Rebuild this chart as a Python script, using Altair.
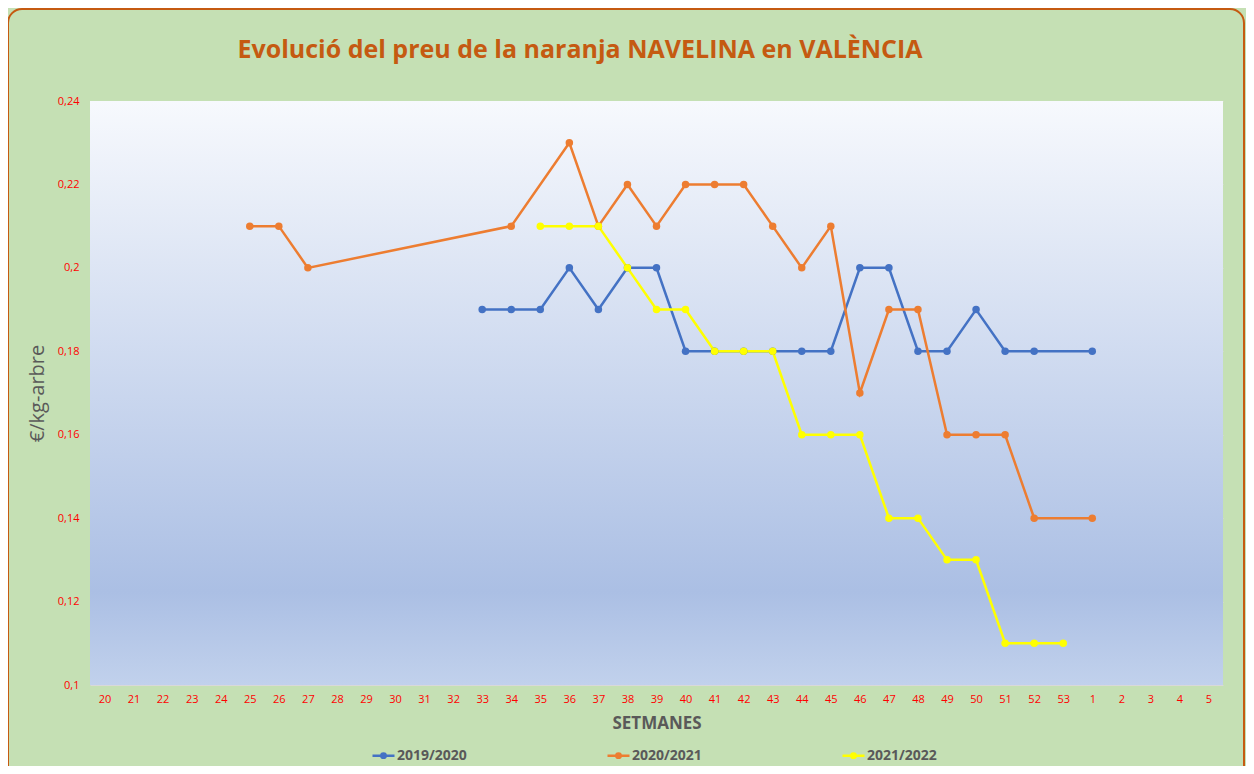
import altair as alt
import pandas as pd

TITLE = "Evolució del preu de la naranja NAVELINA en VALÈNCIA"

weeks = [str(w) for w in range(20, 54)] + [str(w) for w in range(1, 6)]

s2019 = {"33": 0.19, "34": 0.19, "35": 0.19, "36": 0.20, "37": 0.19, "38": 0.20, "39": 0.20,
         "40": 0.18, "41": 0.18, "42": 0.18, "43": 0.18, "44": 0.18, "45": 0.18, "46": 0.20,
         "47": 0.20, "48": 0.18, "49": 0.18, "50": 0.19, "51": 0.18, "52": 0.18, "1": 0.18}
s2020 = {"25": 0.21, "26": 0.21, "27": 0.20, "34": 0.21, "36": 0.23, "37": 0.21, "38": 0.22,
         "39": 0.21, "40": 0.22, "41": 0.22, "42": 0.22, "43": 0.21, "44": 0.20, "45": 0.21,
         "46": 0.17, "47": 0.19, "48": 0.19, "49": 0.16, "50": 0.16, "51": 0.16, "52": 0.14,
         "1": 0.14}
s2021 = {"35": 0.21, "36": 0.21, "37": 0.21, "38": 0.20, "39": 0.19, "40": 0.19, "41": 0.18,
         "42": 0.18, "43": 0.18, "44": 0.16, "45": 0.16, "46": 0.16, "47": 0.14, "48": 0.14,
         "49": 0.13, "50": 0.13, "51": 0.11, "52": 0.11, "53": 0.11}

series_names = ["2019/2020", "2020/2021", "2021/2022"]
series_vals = [s2019, s2020, s2021]
series_colors = ["#4472C4", "#ED7D31", "#FFFF00"]
y_ticks = [0.10, 0.12, 0.14, 0.16, 0.18, 0.20, 0.22, 0.24]

rows = []
for name, vals in zip(series_names, series_vals):
    for i, w in enumerate(weeks):
        if w in vals:
            rows.append({"setmana": w, "idx": i, "preu": vals[w], "campanya": name})
df = pd.DataFrame(rows)

W, H = 1133, 584
GREY = "#595959"

x_enc = alt.X("setmana:O", sort=weeks,
              scale=alt.Scale(type="point", domain=weeks, padding=0.5),
              axis=alt.Axis(title="SETMANES", labelAngle=0, labelColor="#FF0000",
                            labelFontSize=11, labelFont="Open Sans", ticks=False,
                            domain=False, grid=False, labelPadding=8,
                            titleFontSize=17, titleFont="Open Sans", titleFontWeight="bold",
                            titleColor=GREY, titlePadding=11))
y_enc = alt.Y("preu:Q",
              scale=alt.Scale(domain=[0.1, 0.24], nice=False, zero=False),
              axis=alt.Axis(title="€/kg-arbre", values=y_ticks,
                            labelExpr="replace(toString(round(datum.value*100)/100), '.', ',')",
                            labelColor="#FF0000", labelFontSize=11, labelFont="Open Sans",
                            ticks=False, domain=False, grid=True, gridColor="#D9D9D9",
                            labelPadding=11, titleFontSize=20, titleFont="Open Sans",
                            titleFontWeight="normal", titleColor=GREY, titlePadding=10))

legend_symbol = ("M-1,0L1,0"
                 "M0.1,0A0.1,0.1 0 1,1 -0.1,0A0.1,0.1 0 1,1 0.1,0"
                 "M0.2,0A0.2,0.2 0 1,1 -0.2,0A0.2,0.2 0 1,1 0.2,0")

color_enc = alt.Color("campanya:N",
                      scale=alt.Scale(domain=series_names, range=series_colors),
                      legend=alt.Legend(
                          title=None, orient="none", direction="horizontal",
                          legendX=281, legendY=642,
                          symbolType=legend_symbol,
                          symbolSize=484, symbolStrokeWidth=2.5,
                          labelFontSize=14, labelFont="Open Sans", labelFontWeight="bold",
                          labelColor=GREY, labelOffset=1, columnPadding=135))

bg = alt.Chart(pd.DataFrame({"a": [0]})).mark_rect(
    color=alt.LinearGradient(
        gradient="linear", x1=0, y1=0, x2=0, y2=1,
        stops=[alt.GradientStop(offset=0, color="#F7F9FD"),
               alt.GradientStop(offset=0.84, color="#ABBFE4"),
               alt.GradientStop(offset=1, color="#C1D1EC")])
).encode(x=alt.value(0), x2=alt.value(W), y=alt.value(0), y2=alt.value(H))

border = alt.Chart(pd.DataFrame({"a": [0]})).mark_rect(
    filled=False, fillOpacity=0, stroke="#C55A11", strokeWidth=2, cornerRadius=14, clip=False
).encode(x=alt.value(-82), x2=alt.value(W + 21), y=alt.value(-92), y2=alt.value(H + 100))

title = alt.Chart(pd.DataFrame({"t": [TITLE]})).mark_text(
    font="Open Sans", fontSize=25, fontWeight="bold", color="#C55A11",
    align="center", baseline="middle", clip=False
).encode(text="t:N", x=alt.value(490), y=alt.value(-51))

base = alt.Chart(df)
lines = base.mark_line(strokeWidth=2.5).encode(
    x=x_enc, y=y_enc, color=color_enc, order="idx:Q")
points = base.mark_point(size=56, filled=True, opacity=1, strokeWidth=0).encode(
    x=alt.X("setmana:O", sort=weeks), y="preu:Q",
    fill=alt.Fill("campanya:N", scale=alt.Scale(domain=series_names, range=series_colors),
                  legend=None))

chart = alt.layer(bg, border, title, lines, points).properties(
    width=W, height=H,
    autosize=alt.AutoSizeParams(type="none"),
    padding={"left": 82, "top": 93, "right": 23, "bottom": 81},
    background="#C5E0B4",
).configure_view(stroke=None)

chart.save("out.html", embed_options={"renderer": "svg", "actions": False})
